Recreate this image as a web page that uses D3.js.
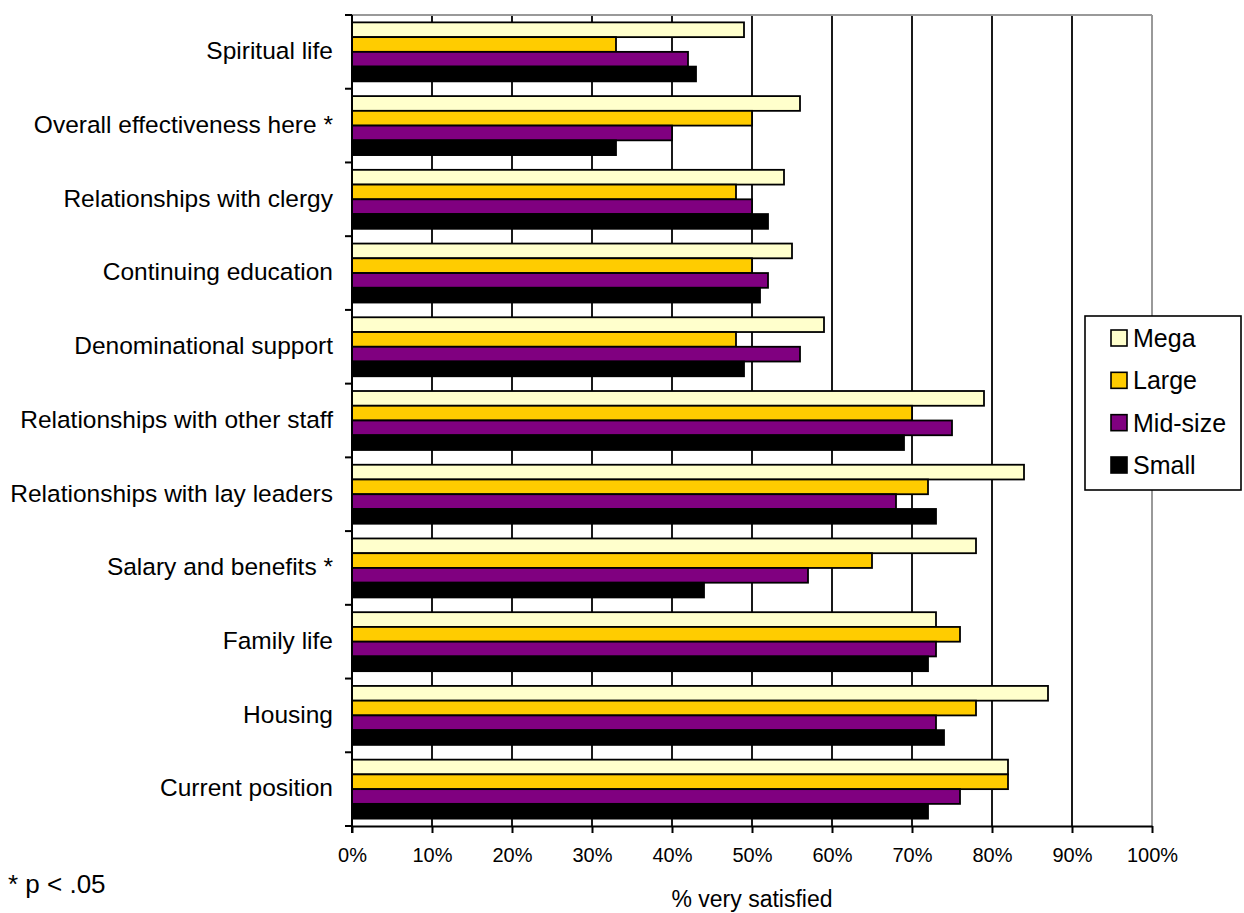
<!DOCTYPE html>
<html>
<head>
<meta charset="utf-8">
<script src="https://cdn.jsdelivr.net/npm/d3@7"></script>
<style>
  html, body { margin: 0; padding: 0; background: #fff; }
  svg { display: block; font-family: "Liberation Sans", Arial, sans-serif; }
</style>
</head>
<body>
<svg id="chart" width="1244" height="913"></svg>
<script>
const categories = [
  "Spiritual life",
  "Overall effectiveness here *",
  "Relationships with clergy",
  "Continuing education",
  "Denominational support",
  "Relationships with other staff",
  "Relationships with lay leaders",
  "Salary and benefits *",
  "Family life",
  "Housing",
  "Current position"
];
const seriesNames = ["Mega", "Large", "Mid-size", "Small"];
const mega  = [49, 56, 54, 55, 59, 79, 84, 78, 73, 87, 82];
const large = [33, 50, 48, 50, 48, 70, 72, 65, 76, 78, 82];
const mid   = [42, 40, 50, 52, 56, 75, 68, 57, 73, 73, 76];
const small = [43, 33, 52, 51, 49, 69, 73, 44, 72, 74, 72];
const xTicks = [0, 10, 20, 30, 40, 50, 60, 70, 80, 90, 100];
const xTickLabels = ["0%", "10%", "20%", "30%", "40%", "50%", "60%", "70%", "80%", "90%", "100%"];
const colors = ["#FFFFCC", "#FFCC00", "#800080", "#000000"];
const xTitle = "% very satisfied";
const footnote = "* p < .05";

const seriesValues = [mega, large, mid, small];

const svg = d3.select("#chart");
const pLeft = 352, pRight = 1152, pTop = 15, pBottom = 826;

const x = d3.scaleLinear().domain([0, 100]).range([pLeft, pRight]);
const y = d3.scaleBand().domain(categories).range([pTop, pBottom]).paddingInner(0.2).paddingOuter(0.1);
const ySub = d3.scaleBand().domain(seriesNames).range([0, y.bandwidth()]);
const step = y.step();

// gridlines
svg.append("g").selectAll("line").data(xTicks.filter(t => t > 0 && t < 100)).join("line")
  .attr("x1", d => x(d)).attr("x2", d => x(d))
  .attr("y1", pTop).attr("y2", pBottom)
  .attr("stroke", "#000").attr("stroke-width", 1.8);

// plot border top and right (gray)
svg.append("line").attr("x1", pLeft).attr("x2", pRight).attr("y1", pTop).attr("y2", pTop)
  .attr("stroke", "#999").attr("stroke-width", 2);
svg.append("line").attr("x1", pRight).attr("x2", pRight).attr("y1", pTop).attr("y2", pBottom)
  .attr("stroke", "#999").attr("stroke-width", 2);

// bars
const rows = categories.map((c, i) => ({ c, vals: seriesNames.map((s, j) => ({ s, v: seriesValues[j][i], col: colors[j] })) }));
const gRow = svg.append("g").selectAll("g").data(rows).join("g")
  .attr("transform", d => `translate(0,${y(d.c)})`);
gRow.selectAll("rect").data(d => d.vals).join("rect")
  .attr("x", x(0))
  .attr("y", d => ySub(d.s))
  .attr("width", d => x(d.v) - x(0))
  .attr("height", ySub.bandwidth())
  .attr("fill", d => d.col)
  .attr("stroke", "#000")
  .attr("stroke-width", 1.8);

// left axis line + ticks at band boundaries
svg.append("line").attr("x1", pLeft).attr("x2", pLeft).attr("y1", pTop).attr("y2", pBottom + 7)
  .attr("stroke", "#000").attr("stroke-width", 2);
const boundaries = d3.range(categories.length + 1).map(i => pTop + i * step);
svg.append("g").selectAll("line").data(boundaries).join("line")
  .attr("x1", pLeft - 7).attr("x2", pLeft)
  .attr("y1", d => d).attr("y2", d => d)
  .attr("stroke", "#000").attr("stroke-width", 2);

// category labels
svg.append("g").selectAll("text").data(categories).join("text")
  .attr("x", 333)
  .attr("y", d => y(d) + y.bandwidth() / 2)
  .attr("dy", "0.3em")
  .attr("text-anchor", "end")
  .attr("font-size", 24.5)
  .attr("fill", "#000")
  .text(d => d);

// bottom axis
const xAxis = d3.axisBottom(x).tickValues(xTicks).tickFormat((d, i) => xTickLabels[i]).tickSize(7).tickPadding(15).tickSizeOuter(0);
const gx = svg.append("g").attr("transform", `translate(0,${pBottom})`).call(xAxis);
gx.select(".domain").attr("stroke", "#000").attr("stroke-width", 2);
gx.selectAll(".tick line").attr("stroke", "#000").attr("stroke-width", 2);
gx.selectAll(".tick text").attr("font-size", 20).attr("font-family", "Liberation Sans, Arial, sans-serif").attr("fill", "#000");

// axis title
svg.append("text").attr("x", x(50)).attr("y", 907).attr("text-anchor", "middle")
  .attr("font-size", 23).attr("fill", "#000").text(xTitle);

// footnote
svg.append("text").attr("x", 8).attr("y", 893).attr("font-size", 26).attr("fill", "#000").text(footnote);

// legend
const lg = svg.append("g");
lg.append("rect").attr("x", 1085).attr("y", 316).attr("width", 156).attr("height", 174)
  .attr("fill", "#fff").attr("stroke", "#000").attr("stroke-width", 1.6);
const legY = d3.scalePoint().domain(seriesNames).range([338, 465]);
const li = lg.selectAll("g").data(seriesNames).join("g")
  .attr("transform", d => `translate(0,${legY(d)})`);
li.append("rect").attr("x", 1111).attr("y", -8).attr("width", 16).attr("height", 16)
  .attr("fill", (d, i) => colors[i]).attr("stroke", "#000").attr("stroke-width", 1.6);
li.append("text").attr("x", 1133).attr("y", 0).attr("dy", "0.36em")
  .attr("font-size", 25).attr("fill", "#000").text(d => d);
</script>
</body>
</html>
